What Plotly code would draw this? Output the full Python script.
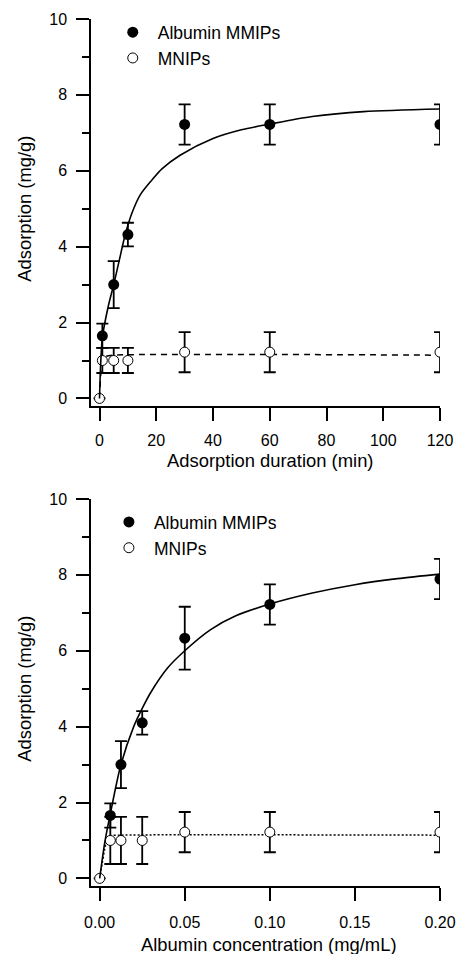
import plotly.graph_objects as go

# ---------------- data: adsorption duration (top) ----------------
time_min = [0, 1, 5, 10, 30, 60, 120]
mmip_time = [None, 1.65, 3.0, 4.32, 7.22, 7.22, 7.22]
mmip_time_err = [None, 0.32, 0.62, 0.31, 0.53, 0.53, 0.53]
mnip_time = [0.0, 1.0, 1.0, 1.0, 1.22, 1.22, 1.22]
mnip_time_err = [None, 0.33, 0.33, 0.33, 0.53, 0.53, 0.53]

# fitted curves
fit_mmip_time_x = [0, 1, 3, 5, 7, 9, 11.4, 14.3, 18.4, 22, 28.4, 40, 50, 60, 75, 93, 120]
fit_mmip_time_y = [0, 1.6, 2.4, 3.0, 3.65, 4.3, 4.88, 5.36, 5.75, 6.05, 6.41, 6.85, 7.08, 7.23, 7.43, 7.56, 7.63]
fit_mnip_time_x = [0, 0.5, 1, 2, 5, 120]
fit_mnip_time_y = [0, 0.7, 1.0, 1.1, 1.14, 1.14]

# ---------------- data: albumin concentration (bottom) ----------------
conc = [0, 0.00625, 0.0125, 0.025, 0.05, 0.10, 0.20]
mmip_conc = [None, 1.66, 3.0, 4.10, 6.33, 7.22, 7.89]
mmip_conc_err = [None, 0.32, 0.62, 0.31, 0.83, 0.53, 0.53]
mnip_conc = [0.0, 1.0, 1.0, 1.0, 1.22, 1.22, 1.22]
mnip_conc_err = [None, 0.62, 0.62, 0.62, 0.53, 0.53, 0.53]

fit_mmip_conc_x = [0, 0.003, 0.00625, 0.0125, 0.02, 0.025, 0.03, 0.04, 0.05, 0.065, 0.08, 0.1, 0.125, 0.15, 0.175, 0.2]
fit_mmip_conc_y = [0, 0.95, 1.7, 3.0, 4.0, 4.48, 4.9, 5.55, 6.0, 6.55, 6.92, 7.23, 7.52, 7.74, 7.9, 8.02]
fit_mnip_conc_x = [0, 0.0008, 0.0037, 0.006, 0.0125, 0.2]
fit_mnip_conc_y = [0, 0.22, 0.92, 1.12, 1.14, 1.14]

top_ticks = [0, 20, 40, 60, 80, 100, 120]
bot_ticks = [0.0, 0.05, 0.10, 0.15, 0.20]
y_ticks = [0, 2, 4, 6, 8, 10]

y_title = "Adsorption (mg/g)"
x_title_top = "Adsorption duration (min)"
x_title_bot = "Albumin concentration (mg/mL)"

FONT = "Liberation Sans, Arial, sans-serif"
BLACK = "black"
TICK_SIZE = 16
TEXT_SIZE = 18.4
LEGEND_SIZE = 17.5

fig = go.Figure()


def add_panel(xa, ya, x, mmip, mmip_err, mnip, mnip_err, fx1, fy1, fx2, fy2, dash2, legend):
    fig.add_trace(go.Scatter(x=fx2, y=fy2, mode="lines", line=dict(color=BLACK, width=1.5, dash=dash2, shape="spline", smoothing=0.6),
                             xaxis=xa, yaxis=ya, showlegend=False, hoverinfo="skip"))
    fig.add_trace(go.Scatter(x=x, y=mnip, mode="markers", name="MNIPs",
                             marker=dict(symbol="circle", size=10, color="white", line=dict(color=BLACK, width=1)),
                             error_y=dict(type="data", array=mnip_err, color=BLACK, thickness=1.8, width=6),
                             xaxis=xa, yaxis=ya, legend=legend, legendrank=2))
    fig.add_trace(go.Scatter(x=fx1, y=fy1, mode="lines", line=dict(color=BLACK, width=1.6, shape="spline", smoothing=0.8),
                             xaxis=xa, yaxis=ya, showlegend=False, hoverinfo="skip"))
    fig.add_trace(go.Scatter(x=x, y=mmip, mode="markers", name="Albumin MMIPs",
                             marker=dict(symbol="circle", size=11, color=BLACK, line=dict(color=BLACK, width=0)),
                             error_y=dict(type="data", array=mmip_err, color=BLACK, thickness=1.8, width=6),
                             xaxis=xa, yaxis=ya, legend=legend, legendrank=1))


add_panel("x", "y", time_min, mmip_time, mmip_time_err, mnip_time, mnip_time_err,
          fit_mmip_time_x, fit_mmip_time_y, fit_mnip_time_x, fit_mnip_time_y, "6px,5px", "legend")
add_panel("x2", "y2", conc, mmip_conc, mmip_conc_err, mnip_conc, mnip_conc_err,
          fit_mmip_conc_x, fit_mmip_conc_y, fit_mnip_conc_x, fit_mnip_conc_y, "2px,2px", "legend2")

title_font = dict(family=FONT, size=TEXT_SIZE, color=BLACK)
axis_common = dict(showline=True, linecolor=BLACK, linewidth=1.5, ticks="outside", ticklen=13, tickwidth=1.5,
                   tickcolor=BLACK, showgrid=False, zeroline=False, automargin=False,
                   tickfont=dict(family=FONT, size=TICK_SIZE, color=BLACK))

yaxis_extra = dict(range=[-0.2, 10], tickvals=y_ticks, ticklabelstandoff=6,
                   minor=dict(dtick=1, ticks="outside", ticklen=7, tickwidth=1.5, tickcolor=BLACK, showgrid=False))

legend_common = dict(xanchor="left", yanchor="top", itemwidth=40, bgcolor="rgba(0,0,0,0)",
                     font=dict(family=FONT, size=LEGEND_SIZE, color=BLACK), tracegroupgap=0)

fig.update_layout(
    width=458, height=954,
    margin=dict(l=91, r=18, t=19, b=68),
    paper_bgcolor="white", plot_bgcolor="white",
    font=dict(family=FONT, size=16, color=BLACK),
    xaxis=dict(**axis_common, domain=[0, 1], anchor="y", range=[-3, 120], tickvals=top_ticks, ticklabelstandoff=6),
    yaxis=dict(**axis_common, **yaxis_extra, domain=[0.5536, 1], anchor="x"),
    xaxis2=dict(**axis_common, domain=[0, 1], anchor="y2", range=[-0.0051, 0.2], tickvals=bot_ticks,
                tickformat=".2f", ticklabelstandoff=8),
    yaxis2=dict(**axis_common, **yaxis_extra, domain=[0, 0.4464], anchor="x2"),
    legend=dict(**legend_common, x=0.048, y=1.0054),
    legend2=dict(**legend_common, x=0.037, y=0.4405),
)

# axis titles placed as text annotations
fig.add_annotation(text=x_title_top, xref="paper", yref="paper", x=0.5115, y=0.4902,
                   xanchor="center", yanchor="middle", showarrow=False, font=title_font)
fig.add_annotation(text=x_title_bot, xref="paper", yref="paper", x=0.510, y=-0.0669,
                   xanchor="center", yanchor="middle", showarrow=False, font=title_font)
fig.add_annotation(text=y_title, xref="paper", yref="y", x=-0.1891, y=5, textangle=-90,
                   xanchor="center", yanchor="middle", showarrow=False, font=title_font)
fig.add_annotation(text=y_title, xref="paper", yref="y2", x=-0.1891, y=5, textangle=-90,
                   xanchor="center", yanchor="middle", showarrow=False, font=title_font)

fig.write_html("out.html", config={"displayModeBar": False},
               post_script="document.body.style.margin='0';document.body.style.overflow='hidden';")
